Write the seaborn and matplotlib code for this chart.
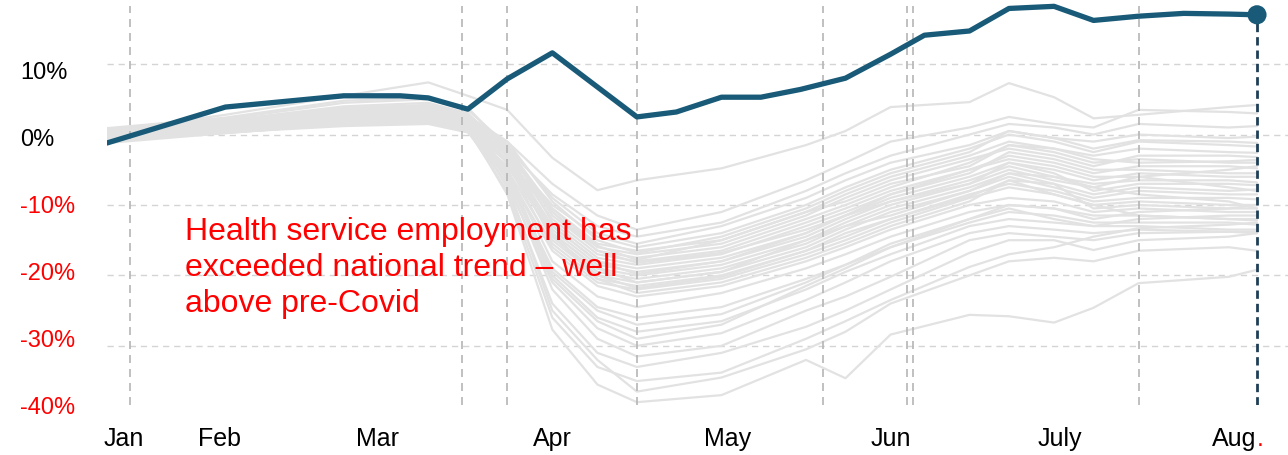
import matplotlib
matplotlib.use("Agg")
import numpy as np
import pandas as pd
import matplotlib.pyplot as plt
import seaborn as sns

# ---------------- data ----------------
# Highlighted series: health service employment, % change vs. January
hl_dates = ["2020-01-13", "2020-02-03", "2020-02-24", "2020-03-05", "2020-03-10",
            "2020-03-17", "2020-03-24", "2020-04-01", "2020-04-16", "2020-04-23",
            "2020-05-01", "2020-05-08", "2020-05-15", "2020-05-23", "2020-05-31",
            "2020-06-06", "2020-06-14", "2020-06-21", "2020-06-29", "2020-07-06",
            "2020-07-14", "2020-07-22", "2020-07-30", "2020-08-04"]
hl_values = [-1.2, 3.9, 5.5, 5.5, 5.2, 3.6, 7.9, 11.6, 2.5, 3.2,
             5.3, 5.3, 6.4, 8.0, 11.4, 14.1, 14.7, 17.9, 18.2, 16.2,
             16.8, 17.2, 17.1, 17.0]

# Background (grey) series, sampled on common dates
gray_dates = ["2020-01-13", "2020-02-03", "2020-02-24", "2020-03-10", "2020-03-17",
              "2020-03-24", "2020-04-01", "2020-04-09", "2020-04-16", "2020-05-01",
              "2020-05-16", "2020-05-23", "2020-05-31", "2020-06-14", "2020-06-21",
              "2020-06-29", "2020-07-06", "2020-07-14", "2020-07-30", "2020-08-04"]
g_top = [0.5, 2.8, 5.5, 7.4, 5.5, 3.5, -3.3, -7.9, -6.5, -4.8, -1.5, 0.5, 3.9, 4.6, 7.3, 5.3, 2.3, 2.8, 3.9, 4.2]
g_m01 = [0.2, 1.5, 3.0, 3.5, 2.5, -1.0, -7.0, -11.5, -13.5, -11.0, -6.5, -4.0, -1.0, 1.0, 2.5, 1.5, 1.0, 3.5, 3.2, 3.0]
g_m02 = [-0.5, 1.0, 2.5, 3.0, 2.0, -2.0, -8.5, -13.0, -14.5, -12.5, -8.0, -5.5, -3.0, 0.0, 1.5, 1.0, 0.0, 1.5, 1.0, 1.2]
g_m03 = [0.0, 1.8, 3.5, 4.0, 2.8, -1.5, -9.0, -14.0, -15.5, -13.0, -9.0, -6.5, -4.0, -1.5, 0.5, -0.5, -1.0, 0.0, -0.5, -0.3]
g_m04 = [-1.0, 0.5, 2.0, 2.5, 1.5, -3.0, -10.0, -14.5, -16.0, -14.0, -10.0, -7.5, -5.0, -2.0, 0.0, -1.0, -2.5, -1.0, -1.5, -1.7]
g_m05 = [0.5, 2.0, 4.0, 4.5, 3.0, -2.5, -10.5, -15.5, -16.5, -15.0, -11.0, -8.5, -6.0, -3.0, -1.0, -2.0, -3.0, -2.0, -2.5, -2.6]
g_m06 = [-0.8, 0.8, 2.0, 2.2, 1.0, -3.5, -11.0, -16.0, -17.0, -15.5, -11.5, -9.0, -6.5, -3.5, -2.0, -3.0, -4.5, -3.0, -3.0, -3.2]
g_m07 = [0.3, 1.2, 3.0, 3.3, 2.2, -2.0, -11.5, -16.5, -17.5, -16.0, -12.0, -10.0, -7.5, -4.0, -1.5, -2.5, -4.0, -3.5, -4.0, -4.0]
g_m08 = [-0.2, 1.5, 2.8, 3.0, 1.8, -3.0, -12.0, -17.0, -18.0, -16.5, -12.5, -10.5, -8.0, -5.0, -3.0, -4.0, -5.5, -4.5, -4.5, -4.8]
g_m09 = [0.8, 2.2, 4.5, 5.0, 3.5, -1.5, -12.5, -17.5, -18.5, -17.0, -13.0, -11.0, -8.5, -5.5, -2.5, -3.5, -5.0, -5.0, -5.5, -5.5]
g_m10 = [-1.2, 0.2, 1.5, 1.8, 0.5, -4.5, -13.0, -18.0, -19.0, -17.5, -14.0, -11.5, -9.0, -6.0, -4.0, -5.0, -6.5, -5.5, -6.0, -6.0]
g_m11 = [0.0, 1.0, 2.5, 2.8, 1.5, -3.5, -13.5, -18.5, -19.5, -18.0, -14.5, -12.0, -9.5, -6.5, -4.5, -6.0, -7.0, -6.5, -6.5, -6.8]
g_m12 = [0.6, 1.8, 3.8, 4.2, 3.0, -2.5, -14.0, -19.0, -20.0, -18.5, -15.0, -12.5, -10.0, -7.0, -4.0, -5.5, -8.0, -7.0, -7.0, -7.2]
g_m13 = [-0.4, 0.6, 2.2, 2.6, 1.2, -4.0, -14.5, -19.5, -20.5, -19.0, -15.5, -13.0, -10.5, -7.5, -5.5, -7.0, -8.5, -7.5, -8.0, -7.8]
g_m14 = [0.4, 1.6, 3.2, 3.6, 2.4, -3.0, -15.0, -20.0, -21.0, -19.5, -16.0, -13.5, -11.0, -8.0, -6.0, -7.5, -9.0, -8.0, -8.5, -8.5]
g_m15 = [-0.6, 0.4, 1.8, 2.0, 0.8, -5.0, -15.5, -20.5, -21.5, -20.0, -16.5, -14.0, -12.0, -8.5, -7.0, -8.0, -9.5, -9.0, -9.0, -9.2]
g_m16 = [0.1, 1.3, 2.9, 3.1, 2.0, -4.0, -16.0, -21.0, -22.0, -20.5, -17.0, -15.0, -12.5, -9.0, -7.5, -8.5, -10.0, -9.5, -10.0, -10.0]
g_m17 = [0.9, 2.4, 4.8, 5.2, 3.8, -2.0, -14.0, -20.5, -22.5, -21.0, -17.5, -15.5, -13.0, -9.5, -6.5, -7.0, -10.5, -10.0, -10.5, -10.5]
g_m18 = [-0.9, 0.3, 1.2, 1.5, 0.3, -5.5, -16.5, -21.5, -23.0, -21.5, -18.0, -16.0, -13.5, -10.0, -9.0, -9.5, -11.0, -10.5, -11.0, -11.0]
g_m19 = [0.7, 2.0, 3.6, 3.9, 2.6, -1.0, -9.5, -15.0, -16.8, -14.5, -10.5, -8.0, -5.5, -2.5, 0.5, -0.5, -2.0, -0.8, -1.0, -1.2]
g_m20 = [-0.3, 1.1, 2.6, 2.9, 1.7, -2.5, -11.0, -16.5, -18.2, -16.8, -13.5, -11.5, -9.5, -7.0, -5.0, -6.5, -7.5, -6.0, -5.0, -4.5]
g_m21 = [0.4, 1.7, 3.3, 3.7, 2.5, -1.8, -10.5, -15.8, -17.8, -15.0, -11.0, -9.5, -7.0, -4.5, -1.5, -2.0, -3.5, -4.0, -3.8, -3.6]
g_m22 = [-1.0, 0.3, 1.4, 1.7, 0.4, -4.5, -14.0, -19.0, -21.0, -19.5, -15.0, -13.0, -11.5, -8.0, -5.5, -6.0, -7.5, -8.5, -9.5, -10.5]
g_m23 = [0.2, 1.4, 3.1, 3.4, 2.3, -3.0, -13.0, -18.0, -19.8, -18.0, -14.0, -11.5, -8.5, -5.0, -3.5, -4.5, -6.0, -6.0, -7.5, -8.0]
g_m24 = [-0.5, 0.6, 2.0, 2.3, 1.1, -3.8, -14.5, -20.0, -21.8, -20.2, -16.5, -14.5, -12.0, -8.8, -6.5, -8.5, -10.0, -11.5, -12.0, -12.2]
g_b01 = [0.2, 1.0, 2.5, 3.0, 1.5, -5.0, -18.0, -23.0, -24.5, -22.5, -19.0, -17.0, -14.5, -11.0, -10.0, -10.5, -11.5, -11.5, -12.0, -12.0]
g_b02 = [-0.3, 0.8, 2.0, 2.4, 1.0, -6.0, -19.0, -24.5, -26.0, -24.5, -20.5, -18.5, -16.0, -12.5, -11.0, -11.5, -12.5, -12.5, -12.5, -12.8]
g_b03 = [0.5, 1.5, 3.0, 3.2, 2.0, -5.0, -20.0, -26.0, -28.0, -26.5, -22.0, -19.5, -17.0, -13.0, -12.0, -12.5, -13.0, -13.0, -13.5, -13.5]
g_b04 = [-0.7, 0.2, 1.5, 1.8, 0.5, -7.0, -21.0, -27.5, -30.0, -28.2, -23.5, -21.0, -18.0, -14.0, -13.0, -13.5, -14.0, -13.5, -13.8, -14.0]
g_b05 = [0.0, 1.0, 2.2, 2.5, 1.2, -6.5, -22.0, -29.0, -31.5, -30.0, -25.0, -23.0, -20.2, -15.0, -14.0, -14.5, -15.0, -14.0, -13.8, -13.8]
g_b06 = [0.3, 1.4, 2.6, 2.9, 1.6, -7.5, -24.0, -31.0, -33.0, -31.0, -27.3, -25.0, -22.0, -16.8, -15.0, -15.0, -16.4, -15.0, -14.5, -14.0]
g_b07 = [-0.5, 0.5, 1.8, 2.0, 0.6, -8.0, -26.0, -33.0, -35.0, -33.8, -29.0, -26.5, -23.5, -18.8, -17.0, -16.0, -14.5, -13.3, -12.8, -12.5]
g_b08 = [0.1, 0.9, 2.4, 2.7, 1.0, -8.5, -27.7, -35.5, -38.0, -37.0, -32.0, -34.6, -28.4, -25.6, -25.8, -26.7, -24.6, -21.1, -20.2, -19.2]
g_b09 = [-0.2, 0.7, 1.6, 1.9, 0.4, -7.0, -25.0, -32.0, -36.5, -34.5, -30.5, -28.0, -24.0, -20.0, -18.0, -17.5, -18.0, -16.5, -16.0, -16.5]
g_b10 = [0.0, 1.2, 2.7, 3.0, 1.4, -6.0, -20.5, -26.5, -29.0, -27.0, -21.5, -19.0, -16.0, -12.0, -10.0, -10.5, -12.0, -11.0, -10.5, -10.0]
g_b11 = [0.4, 1.3, 2.8, 3.1, 1.8, -5.5, -19.5, -25.0, -27.0, -25.5, -21.0, -18.5, -15.5, -12.0, -10.5, -12.0, -13.0, -12.0, -11.5, -11.5]
gray_series = [g_top, g_m01, g_m02, g_m03, g_m04, g_m05, g_m06, g_m07, g_m08, g_m09,
               g_m10, g_m11, g_m12, g_m13, g_m14, g_m15, g_m16, g_m17, g_m18,
               g_m19, g_m20, g_m21, g_m22, g_m23, g_m24,
               g_b01, g_b02, g_b03, g_b04, g_b05, g_b06, g_b07, g_b08, g_b09,
               g_b10, g_b11]

# Event markers (vertical dashed lines)
event_dates = ["2020-01-17", "2020-03-16", "2020-03-24", "2020-04-16", "2020-05-19",
               "2020-06-03", "2020-06-04", "2020-07-14"]

# Axis labels
x_tick_dates = ["2020-01-16", "2020-02-02", "2020-03-01", "2020-04-01", "2020-05-02",
                "2020-05-31", "2020-06-30", "2020-07-31"]
x_tick_labels = ["Jan", "Feb", "Mar", "Apr", "May", "Jun", "July", "Aug"]
y_label_values = [10, 0, -10, -20, -30, -40]
y_label_text = ["10%", "0%", "-10%", "-20%", "-30%", "-40%"]
y_label_colors = ["black", "black", "red", "red", "red", "red"]
grid_values = [10, 0, -10, -20, -30]

annotation = "Health service employment has\nexceeded national trend \u2013 well\nabove pre-Covid"

# ---------------- frames ----------------
hl_df = pd.DataFrame({"date": pd.to_datetime(hl_dates), "value": hl_values})
gray_df = pd.concat(
    [pd.DataFrame({"date": pd.to_datetime(gray_dates), "value": vals, "series": i})
     for i, vals in enumerate(gray_series)],
    ignore_index=True)

# ---------------- style ----------------
sns.set_theme(style="white")
plt.rcParams["font.family"] = ["Liberation Sans", "DejaVu Sans"]

BLUE = "#185a78"
GRAY = "#e2e2e2"
RED = "#ff0000"

fig = plt.figure(figsize=(12.88, 4.55), dpi=100)
ax = fig.add_axes([107 / 1288, 50 / 455, 1181 / 1288, 405 / 455])

y_lo, y_hi = -38.4, 19.1
x_lo = pd.Timestamp("2020-01-13")
x_hi = pd.Timestamp("2020-08-09 12:00")

# horizontal dashed grid
for g in grid_values:
    ax.axhline(g, color="#d4d4d4", lw=1.0, ls=(0, (4.5, 3.5)), zorder=0.5)

sns.lineplot(data=gray_df, x="date", y="value", units="series", estimator=None,
             color=GRAY, lw=1.6, ax=ax, legend=False, zorder=1)

for d in event_dates:
    ax.axvline(pd.Timestamp(d), ymin=0, ymax=0.985, color="#b5b5b5", lw=1.2,
               ls=(0, (4.8, 3.6)), zorder=2)

last = hl_df.iloc[-1]
ax.axvline(last["date"], ymin=0, ymax=(last["value"] - y_lo) / (y_hi - y_lo),
           color="#1e3f55", lw=2.0, ls=(0, (3.0, 1.8)), zorder=2.5)

sns.lineplot(data=hl_df, x="date", y="value", color=BLUE, lw=3.8, ax=ax, zorder=3)
sns.scatterplot(data=hl_df.tail(1), x="date", y="value", color=BLUE, s=190,
                edgecolor="none", ax=ax, zorder=4)

ax.set_xlim(x_lo, x_hi)
ax.set_ylim(y_lo, y_hi)
ax.set_xlabel("")
ax.set_ylabel("")
ax.set_yticks([])
ax.set_xticks(pd.to_datetime(x_tick_dates))
ax.set_xticklabels(x_tick_labels, fontsize=18, color="black")
ax.tick_params(axis="x", length=0, pad=16)
for s in ax.spines.values():
    s.set_visible(False)

ax.text(0.066, 0.338, annotation, transform=ax.transAxes, color=RED, fontsize=23,
        ha="left", va="center", linespacing=1.26, zorder=5)

# y labels on a twin axis (overlay labels)
ax2 = ax.twinx()
ax2.set_ylim(-40, 20.45)
ax2.set_yticks(y_label_values)
ax2.set_yticklabels(y_label_text, fontsize=17)
ax2.yaxis.set_ticks_position("left")
ax2.yaxis.set_label_position("left")
ax2.tick_params(axis="y", length=0, pad=(107 - 20) * 72 / 100)
for lbl, c in zip(ax2.get_yticklabels(), y_label_colors):
    lbl.set_color(c)
    lbl.set_horizontalalignment("left")
for s in ax2.spines.values():
    s.set_visible(False)
ax2.grid(False)

# red full stop after "Aug"
fig.canvas.draw()
aug = ax.get_xticklabels()[-1]
bb = aug.get_window_extent()
fig.text(bb.x1, bb.y0, ".", color=RED, fontsize=18, ha="left", va="bottom",
         transform=None)

fig.savefig("out.png", dpi=100)
